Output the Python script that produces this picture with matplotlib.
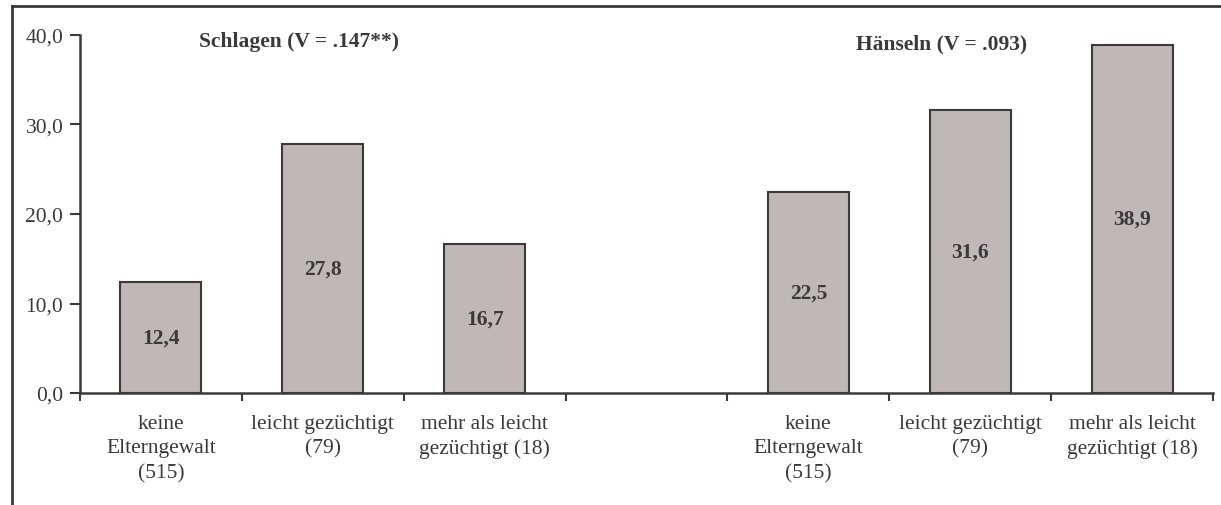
import matplotlib.pyplot as plt
from matplotlib.lines import Line2D

plt.rcParams['font.family'] = ['Liberation Serif', 'DejaVu Serif']

categories = ['keine\nElterngewalt\n(515)', 'leicht gezüchtigt\n(79)', 'mehr als leicht\ngezüchtigt (18)', '',
              'keine\nElterngewalt\n(515)', 'leicht gezüchtigt\n(79)', 'mehr als leicht\ngezüchtigt (18)']
schlagen = [12.4, 27.8, 16.7]
haenseln = [22.5, 31.6, 38.9]
yticks = [0, 10, 20, 30, 40]
ytick_labels = ['0,0', '10,0', '20,0', '30,0', '40,0']

dark = '#3a3a3a'
barcol = '#c0b8b6'
fs = 15.5

fig = plt.figure(figsize=(12.21, 5.06), dpi=100)
ax = fig.add_axes([80 / 1221, 1 - 394 / 506, 1133 / 1221, 358 / 506])

xs = [0, 1, 2, 4, 5, 6]
vals = schlagen + haenseln
ax.bar(xs, vals, width=0.5, color=barcol, edgecolor=dark, linewidth=1.5, zorder=2)
for x, v in zip(xs, vals):
	ax.text(x, v / 2, f'{v:.1f}'.replace('.', ','), ha='center', va='center',
			fontsize=fs, fontweight='bold', color=dark)

ax.set_xlim(-0.5, 6.5)
ax.set_ylim(0, 40)
ax.set_yticks(yticks)
ax.set_yticklabels(ytick_labels, fontsize=fs, color=dark)
ax.set_xticks(range(7))
ax.set_xticklabels(categories, fontsize=fs, color=dark, linespacing=1.4)
ax.set_xticks([i + 0.5 for i in range(-1, 7)], minor=True)
ax.tick_params(axis='x', which='major', length=0, pad=15)
ax.tick_params(axis='x', which='minor', length=6, width=1.5, color=dark, direction='out')
ax.tick_params(axis='y', length=7, width=1.5, color=dark, pad=5)
for s in ['top', 'right']:
	ax.spines[s].set_visible(False)
for s in ['left', 'bottom']:
	ax.spines[s].set_color(dark)
	ax.spines[s].set_linewidth(1.8)

ax.text(0.85, 39.3, 'Schlagen (V = .147**)', ha='center', va='center', fontsize=fs,
		fontweight='bold', color=dark)
ax.text(4.82, 39.0, 'Hänseln (V = .093)', ha='center', va='center', fontsize=fs,
		fontweight='bold', color=dark)

# frame around the figure (cropped at right and bottom)
fig.add_artist(Line2D([12 / 1221, 12 / 1221], [0, 1 - 7 / 506], color=dark, lw=2))
fig.add_artist(Line2D([12 / 1221, 1], [1 - 7 / 506, 1 - 7 / 506], color=dark, lw=2))

fig.savefig('out.png', dpi=100)
